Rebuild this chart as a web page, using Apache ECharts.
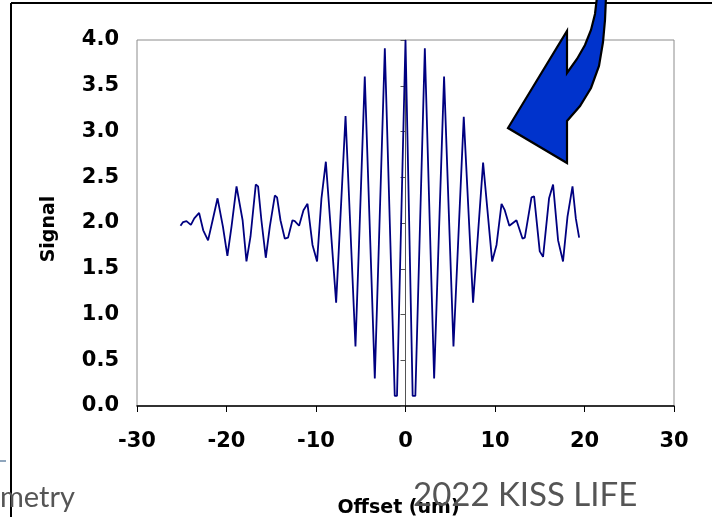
<!DOCTYPE html>
<html>
<head>
<meta charset="utf-8">
<script src="https://cdn.jsdelivr.net/npm/echarts@6/dist/echarts.min.js"></script>
<style>
  html, body { margin: 0; padding: 0; background: #fff; }
  #chart { width: 712px; height: 517px; }
</style>
</head>
<body>
<div id="chart"></div>
<script>
// Interferogram trace: mirror offset (um) against detector signal
const offsets = [-25.14, -24.85, -24.47, -23.98, -23.6, -23.06, -22.6, -22.06, -21.55, -21.0,
  -20.8, -20.4, -19.9, -19.44, -18.88, -18.66, -18.2, -17.77, -17.32, -16.73,
  -16.47, -16.1, -15.61, -15.16, -14.6, -14.35, -13.97, -13.49, -13.12, -12.63,
  -12.37, -11.89, -11.4, -10.95, -10.39, -9.88, -9.39, -8.9, -7.75, -6.7,
  -5.59, -4.55, -3.43, -2.31, -1.2, -0.95, 0, 0.8, 1.1, 2.16,
  3.2, 4.31, 5.36, 6.51, 7.55, 8.67, 9.68, 10.17, 10.73, 11.09,
  11.6, 12.4, 13.07, 13.33, 14.08, 14.37, 15.0, 15.37, 16.04, 16.49,
  17.05, 17.6, 18.1, 18.66, 19.03, 19.4];
const signal = [1.97, 2.01, 2.02, 1.98, 2.05, 2.11, 1.92, 1.81, 2.03, 2.27,
  2.25, 1.96, 1.64, 1.96, 2.40, 2.39, 2.03, 1.58, 1.85, 2.42,
  2.40, 2.03, 1.62, 1.96, 2.30, 2.28, 2.03, 1.83, 1.84, 2.03,
  2.02, 1.97, 2.14, 2.21, 1.76, 1.58, 2.27, 2.67, 1.13, 3.17,
  0.65, 3.60, 0.30, 3.91, 0.11, 0.11, 4.00, 0.11, 0.11, 3.91,
  0.30, 3.60, 0.65, 3.16, 1.13, 2.66, 1.58, 1.76, 2.21, 2.14,
  1.97, 2.03, 1.83, 1.84, 2.28, 2.29, 1.69, 1.63, 2.27, 2.42,
  1.81, 1.58, 2.07, 2.40, 2.05, 1.84];

const xTitle = 'Offset (um)';
const yTitle = 'Signal';
const footerLeft = 'metry';
const footerRight = '2022 KISS LIFE';

const labelFont = {
  fontFamily: 'DejaVu Sans',
  fontWeight: 'bold',
  fontSize: 21,
  color: '#000'
};

// outline of the curved call-out arrow (tail curves down from the top edge)
const arrowOutline = [
  [597, -3], [595, 14], [591, 30], [585, 45], [577, 59], [567, 73],
  [567, 31], [508, 128], [567, 163], [567, 121],
  [580, 106], [591, 88], [599, 66], [603, 42], [605, 20], [606, -3]
];

const chart = echarts.init(document.getElementById('chart'), null, { renderer: 'canvas' });

chart.setOption({
  animation: false,
  backgroundColor: '#fff',
  grid: {
    left: 137, right: 38, top: 40, bottom: 111,
    outerBoundsMode: 'none', containLabel: false,
    show: true, borderColor: '#8c8c8c', borderWidth: 1, backgroundColor: 'transparent'
  },
  xAxis: {
    type: 'value', min: -30, max: 30, interval: 10,
    name: xTitle, nameLocation: 'middle', nameGap: 93,
    nameTextStyle: Object.assign({}, labelFont, { fontSize: 19, padding: [0, 14, 0, 0] }),
    axisLine: { onZero: false, lineStyle: { color: '#000', width: 1.5 } },
    axisTick: { show: true, inside: false, length: 6, lineStyle: { color: '#000' } },
    axisLabel: Object.assign({}, labelFont, { margin: 25 }),
    splitLine: { show: false }
  },
  yAxis: {
    type: 'value', min: 0, max: 4, interval: 0.5,
    axisLine: { show: true, lineStyle: { color: '#555', width: 1 } },
    axisTick: { show: true, inside: false, length: 5, lineStyle: { color: '#555' } },
    axisLabel: Object.assign({}, labelFont, {
      margin: 18, padding: [8, 0, 0, 0], formatter: v => v.toFixed(1)
    }),
    splitLine: { show: false }
  },
  series: [{
    type: 'line',
    data: offsets.map((x, i) => [x, signal[i]]),
    showSymbol: false,
    lineStyle: { color: '#000080', width: 1.8 },
    z: 3
  }],
  graphic: [
    // slide frame lines
    { type: 'line', shape: { x1: 11, y1: 3, x2: 712, y2: 3 }, style: { stroke: '#000', lineWidth: 2 }, z: 10 },
    { type: 'line', shape: { x1: 11, y1: 3, x2: 11, y2: 517 }, style: { stroke: '#000', lineWidth: 2 }, z: 10 },
    // small bullet dash at the left margin
    { type: 'line', shape: { x1: 0, y1: 461, x2: 6, y2: 461 }, style: { stroke: '#8fa6bd', lineWidth: 2 }, z: 10 },
    // y axis title, rotated
    {
      type: 'text', x: 49, y: 229, rotation: Math.PI / 2, z: 10,
      style: {
        text: yTitle, fontFamily: 'DejaVu Sans', fontWeight: 'bold', fontSize: 19,
        fill: '#000', align: 'center', verticalAlign: 'middle'
      }
    },
    // curved call-out arrow
    {
      type: 'polygon', z: 20,
      shape: { points: arrowOutline },
      style: { fill: '#0033cc', stroke: '#000', lineWidth: 2.2, lineJoin: 'miter' }
    },
    // footer text of the slide
    {
      type: 'text', left: 0, top: 483, z: 30,
      style: { text: footerLeft, fontFamily: 'Lato', fontSize: 29, fill: '#555' }
    },
    {
      type: 'text', left: 413, top: 479, z: 30,
      style: { text: footerRight, fontFamily: 'Lato', fontSize: 33, fill: '#555' }
    }
  ]
});
</script>
</body>
</html>
